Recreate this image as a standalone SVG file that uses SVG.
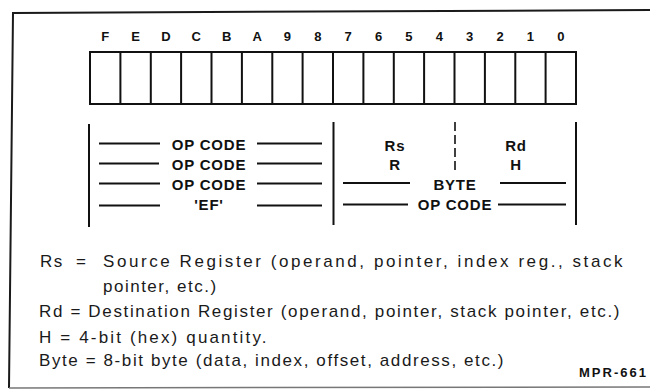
<svg xmlns="http://www.w3.org/2000/svg" width="650" height="390" viewBox="0 0 650 390">
<style>
.frame{fill:none;stroke:#1a1a1a;stroke-width:2}
.cell{fill:none;stroke:#111;stroke-width:2}
.rule{stroke:#111;stroke-width:1.8;fill:none}
.bar{stroke:#111;stroke-width:2;fill:none}
.dash{stroke:#111;stroke-width:1.6;stroke-dasharray:9 4;fill:none}
.bit{font-family:"Liberation Sans",Arial,sans-serif;font-size:13px;font-weight:bold;fill:#111;text-anchor:middle}
.fld{font-family:"Liberation Sans",Arial,sans-serif;font-size:15px;font-weight:bold;fill:#111;text-anchor:middle;letter-spacing:0.8px}
.leg{font-family:"Liberation Sans",Arial,sans-serif;font-size:17px;fill:#1a1a1a;letter-spacing:1.5px}
.tag{font-family:"Liberation Sans",Arial,sans-serif;font-size:13px;font-weight:bold;fill:#111}
</style>
<rect width="650" height="390" fill="#fff"/>
<g id="frame">
<path class="frame" d="M650,10 L13,13 L9,388"/>
<path d="M9,388 L650,387" stroke="#777" stroke-width="1.5" fill="none"/>
</g>
<g id="bit-labels">
<text class="bit" x="105.2" y="41">F</text>
<text class="bit" x="135.6" y="41">E</text>
<text class="bit" x="165.9" y="41">D</text>
<text class="bit" x="196.3" y="41">C</text>
<text class="bit" x="226.7" y="41">B</text>
<text class="bit" x="257.1" y="41">A</text>
<text class="bit" x="287.4" y="41">9</text>
<text class="bit" x="317.8" y="41">8</text>
<text class="bit" x="348.2" y="41">7</text>
<text class="bit" x="378.6" y="41">6</text>
<text class="bit" x="408.9" y="41">5</text>
<text class="bit" x="439.3" y="41">4</text>
<text class="bit" x="469.7" y="41">3</text>
<text class="bit" x="500.1" y="41">2</text>
<text class="bit" x="530.4" y="41">1</text>
<text class="bit" x="560.8" y="41">0</text>
</g>
<g id="register">
<rect class="cell" x="90" y="52" width="486" height="52"/>
<path class="cell" d="M120.4,52V104M150.8,52V104M181.1,52V104M211.5,52V104M241.9,52V104M272.3,52V104M302.6,52V104M333,52V104M363.4,52V104M393.8,52V104M424.1,52V104M454.5,52V104M484.9,52V104M515.3,52V104M545.6,52V104"/>
</g>
<g id="connectors">
<path class="bar" d="M89,124V227M333.5,122V225M576,122V225"/>
<path class="dash" d="M455,122V172"/>
<path class="rule" d="M99,143.5H160M257,143.5H322M99,163.5H159M257,163.5H322M99,183.5H160M257,183.5H322M99,205.5H160M257,205.5H322"/>
<path class="rule" d="M343,183H410M500,183H566M343,204.5H408M498,204.5H566"/>
</g>
<g id="high-byte">
<text class="fld" x="209" y="150">OP CODE</text>
<text class="fld" x="209" y="169.5">OP CODE</text>
<text class="fld" x="209" y="189.5">OP CODE</text>
<text class="fld" x="209" y="209.5">'EF'</text>
</g>
<g id="low-byte">
<text class="fld" x="395" y="151">Rs</text>
<text class="fld" x="395" y="169.5">R</text>
<text class="fld" x="516" y="151">Rd</text>
<text class="fld" x="516" y="169.5">H</text>
<text class="fld" x="455" y="189.5">BYTE</text>
<text class="fld" x="455" y="209.5">OP CODE</text>
</g>
<g id="legend">
<text class="leg" x="40" y="267">Rs</text>
<text class="leg" x="76" y="267">=</text>
<text class="leg" x="103" y="267" textLength="521" lengthAdjust="spacing">Source Register (operand, pointer, index reg., stack</text>
<text class="leg" x="103" y="292">pointer, etc.)</text>
<text class="leg" x="39" y="317" textLength="582" lengthAdjust="spacing">Rd = Destination Register (operand, pointer, stack pointer, etc.)</text>
<text class="leg" x="39" y="343" textLength="229" lengthAdjust="spacing">H = 4-bit (hex) quantity.</text>
<text class="leg" x="39" y="366" textLength="466" lengthAdjust="spacing">Byte = 8-bit byte (data, index, offset, address, etc.)</text>
<text class="tag" x="579" y="377" textLength="67" lengthAdjust="spacing">MPR-661</text>
</g>
</svg>
